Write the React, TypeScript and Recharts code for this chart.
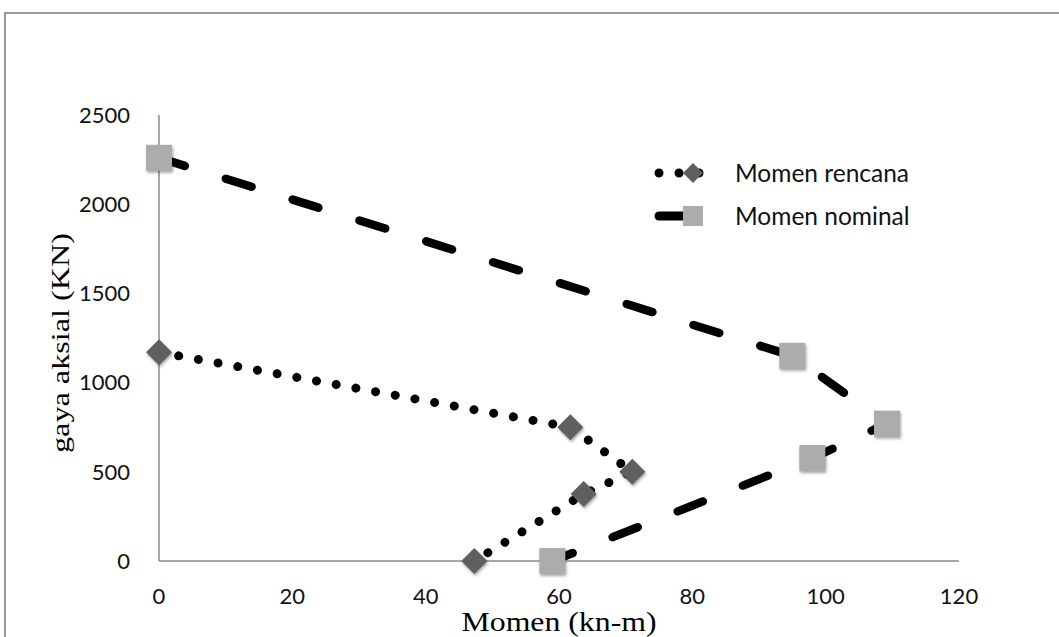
import React from 'react';
import { LineChart, Line, XAxis, YAxis, Legend } from 'recharts';

const rencanaX = [0, 61.7, 71, 63.7, 47.3];
const rencanaY = [1170, 750, 500, 375, 0];
const nominalX = [0, 95, 109.2, 98, 59];
const nominalY = [2260, 1150, 770, 577, 0];
const xTicks = [0, 20, 40, 60, 80, 100, 120];
const yTicks = [0, 500, 1000, 1500, 2000, 2500];
const seriesNames = ['Momen rencana', 'Momen nominal'];

const rencanaData = rencanaX.map((x, i) => ({ x, y: rencanaY[i] }));
const nominalData = nominalX.map((x, i) => ({ x, y: nominalY[i] }));

const SHADOW = 'drop-shadow(1px 2px 1.5px rgba(0,0,0,0.35))';
const TICK_FONT = { fontFamily: 'Lato', fontSize: 22, fill: '#111' };

const Diamond = (props: any) => {
  const { cx, cy } = props;
  if (cx == null || cy == null) return <g key={props.key} />;
  const r = 13;
  return (
    <path
      key={props.key}
      d={`M${cx},${cy - r}L${cx + r},${cy}L${cx},${cy + r}L${cx - r},${cy}Z`}
      fill="#5f5f5f"
      style={{ filter: SHADOW }}
    />
  );
};

const Square = (props: any) => {
  const { cx, cy } = props;
  if (cx == null || cy == null) return <g key={props.key} />;
  const s = 26;
  return (
    <rect
      key={props.key}
      x={cx - s / 2}
      y={cy - s / 2}
      width={s}
      height={s}
      fill="#acacac"
      style={{ filter: SHADOW }}
    />
  );
};

const XTitle = (props: any) => {
  const vb = props.viewBox || { x: 159, y: 561, width: 800 };
  return (
    <text
      x={vb.x + vb.width / 2}
      y={vb.y + 70}
      textAnchor="middle"
      fontFamily="Liberation Serif"
      fontSize={27}
      fill="#000"
      textLength={195}
      lengthAdjust="spacingAndGlyphs"
    >
      Momen (kn-m)
    </text>
  );
};

const YTitle = (props: any) => {
  const vb = props.viewBox || { x: 99, y: 115, width: 60, height: 446 };
  const cx = 60;
  const cy = vb.y + vb.height / 2 + 5;
  return (
    <text
      x={cx}
      y={cy}
      transform={`rotate(-90, ${cx}, ${cy})`}
      textAnchor="middle"
      dominantBaseline="central"
      fontFamily="Liberation Serif"
      fontSize={26}
      fill="#000"
      textLength={220}
      lengthAdjust="spacingAndGlyphs"
    >
      gaya aksial (KN)
    </text>
  );
};

const LegendContent = () => (
  <div style={{ position: 'relative', width: 300, height: 90 }}>
    <svg width={80} height={90} style={{ position: 'absolute', left: 0, top: 0 }}>
      <line x1={8} y1={18} x2={68} y2={18} stroke="#000" strokeWidth={9} strokeDasharray="0.01 20" strokeLinecap="round" />
      <path d="M42,8L52,18L42,28L32,18Z" fill="#5f5f5f" />
      <line x1={8} y1={61} x2={36} y2={61} stroke="#000" strokeWidth={9} strokeLinecap="round" />
      <rect x={32} y={51} width={20} height={20} fill="#acacac" />
    </svg>
    <div style={{ position: 'absolute', left: 84, top: 18, transform: 'translateY(-50%)', fontFamily: 'Lato', fontSize: 24.5, color: '#111', whiteSpace: 'nowrap', lineHeight: 1 }}>
      {seriesNames[0]}
    </div>
    <div style={{ position: 'absolute', left: 84, top: 61, transform: 'translateY(-50%)', fontFamily: 'Lato', fontSize: 24.5, color: '#111', whiteSpace: 'nowrap', lineHeight: 1 }}>
      {seriesNames[1]}
    </div>
  </div>
);

export default function App() {
  return (
    <div style={{ position: 'absolute', left: 0, top: 0, width: 1059, height: 637, overflow: 'hidden', background: '#fff' }}>
      <div style={{ position: 'absolute', left: 4, top: 12, width: 1100, height: 700, border: '2px solid #999', boxSizing: 'border-box' }} />
      <div style={{ position: 'absolute', left: 0, top: 0 }}>
        <LineChart width={1059} height={637} margin={{ top: 115, right: 100, bottom: 36, left: 99 }}>
          <XAxis
            type="number"
            dataKey="x"
            domain={[0, 120]}
            ticks={xTicks}
            tickLine={false}
            tickSize={0}
            tickMargin={27}
            height={40}
            stroke="#8a8a8a"
            strokeWidth={1.5}
            tick={TICK_FONT}
            label={<XTitle />}
          />
          <YAxis
            type="number"
            dataKey="y"
            domain={[0, 2500]}
            ticks={yTicks}
            tickLine={false}
            tickSize={0}
            tickMargin={29}
            width={60}
            stroke="#8a8a8a"
            strokeWidth={1.5}
            tick={TICK_FONT}
            label={<YTitle />}
          />
          <Legend
            layout="horizontal"
            verticalAlign="middle"
            align="center"
            content={<LegendContent />}
            wrapperStyle={{ position: 'absolute', left: 651, top: 155, width: 300, height: 90 }}
          />
          <Line
            data={nominalData}
            dataKey="y"
            name={seriesNames[1]}
            type="linear"
            stroke="#000"
            strokeWidth={8.5}
            strokeDasharray="27 43"
            strokeLinecap="round"
            dot={(p: any) => <Square {...p} />}
            activeDot={false}
            isAnimationActive={false}
          />
          <Line
            data={rencanaData}
            dataKey="y"
            name={seriesNames[0]}
            type="linear"
            stroke="#000"
            strokeWidth={9}
            strokeDasharray="0.01 20"
            strokeLinecap="round"
            dot={(p: any) => <Diamond {...p} />}
            activeDot={false}
            isAnimationActive={false}
          />
        </LineChart>
      </div>
    </div>
  );
}
